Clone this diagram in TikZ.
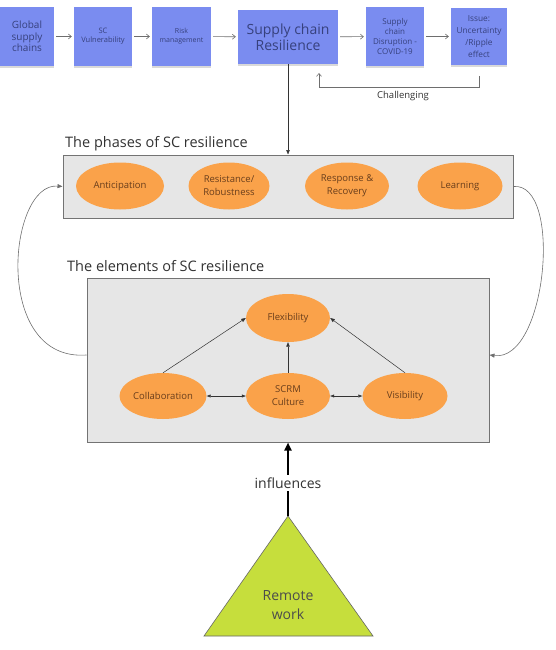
\documentclass[tikz,border=0pt]{standalone}
\usepackage{fontspec}
\setmainfont{Open Sans}
\usetikzlibrary{shapes.geometric,arrows.meta,shadows}
\definecolor{boxblue}{RGB}{122,140,240}
\definecolor{bluetext}{RGB}{55,65,125}
\definecolor{orangefill}{RGB}{250,162,74}
\definecolor{orangetext}{RGB}{105,62,28}
\definecolor{panelfill}{RGB}{230,230,230}
\definecolor{paneldraw}{RGB}{115,115,115}
\definecolor{trifill}{RGB}{198,222,60}
\definecolor{titlegrey}{RGB}{50,50,50}
\definecolor{linegrey}{RGB}{110,110,110}
\begin{document}
\begin{tikzpicture}[x=1pt,y=-1pt,
  sticky/.style={fill=boxblue, draw=none, text=bluetext, align=center, inner sep=1pt,
    drop shadow={shadow xshift=0pt,shadow yshift=-2.5pt,opacity=0.3}},
  panel/.style={fill=panelfill, draw=paneldraw, line width=1pt, inner sep=0pt},
  oval/.style={ellipse, fill=orangefill, draw=none, text=orangetext, align=center,
    inner sep=0pt, minimum height=47pt, font=\fontsize{9.5}{13}\selectfont},
  paneltitle/.style={anchor=west, text=titlegrey, inner sep=2pt, font=\fontsize{14.5}{17}\selectfont},
  toparrow/.style={draw=linegrey, line width=0.6pt, -{Straight Barb[length=3pt,width=5pt]}},
  blkarrow/.style={draw=black!80, line width=0.5pt, -{Triangle[length=4.5pt,width=3.5pt]}},
  dblarrow/.style={draw=black!80, line width=0.5pt, {Triangle[length=4pt,width=3pt]}-{Triangle[length=4pt,width=3pt]}},
  curvearrow/.style={draw=linegrey, line width=0.6pt, -{Triangle[length=5pt,width=4pt]}},
]
\useasboundingbox (0,0) rectangle (555,650);

% top row
\node[sticky, minimum width=54pt, minimum height=59pt, font=\fontsize{10}{11.5}\selectfont] (b1) at (27,36.5) {Global\\supply\\chains};
\node[sticky, minimum width=58pt, minimum height=59pt, font=\fontsize{7.5}{9}\selectfont] (b2) at (103,36.5) {SC\\Vulnerability};
\node[sticky, minimum width=59pt, minimum height=59pt, font=\fontsize{7}{9}\selectfont] (b3) at (181.5,36.5) {Risk\\management};
\node[sticky, minimum width=100pt, minimum height=54pt, font=\fontsize{14}{16}\selectfont] (b4) at (288,37) {Supply chain\\Resilience};
\node[sticky, minimum width=58pt, minimum height=59pt, font=\fontsize{8}{10}\selectfont] (b5) at (395,36.5) {Supply\\chain\\Disruption -\\COVID-19};
\node[sticky, minimum width=56pt, minimum height=57pt, font=\fontsize{8.3}{12}\selectfont] (b6) at (479,36.5) {Issue:\\Uncertainty\\/Ripple\\effect};

\draw[toparrow, shorten <=2pt, shorten >=2pt] (b1) -- (b2);
\draw[toparrow, shorten <=2pt, shorten >=2pt] (b2) -- (b3);
\draw[toparrow, shorten <=2pt, shorten >=2pt] (b3) -- (b4);
\draw[toparrow, shorten <=2pt, shorten >=2pt] (b4) -- (b5);
\draw[toparrow, shorten <=2pt, shorten >=2pt] (b5) -- (b6);

\coordinate (c1) at (479,76);
\coordinate (c2) at (319,87);
\coordinate (c3) at (319,73);
\draw[toparrow] (c1) |- (c2) -- (c3);
\node[text=titlegrey, font=\fontsize{9.5}{11}\selectfont] (chl) at (403,96) {Challenging};

% phases panel
\node[paneltitle] (pt) at (63,144) {The phases of SC resilience};
\node[panel, minimum width=450pt, minimum height=63pt] (phases) at (288,186.5) {};
\node[oval, minimum width=88pt] (ant) at (120,186) {Anticipation};
\node[oval, minimum width=81pt] (res) at (229,186) {Resistance/\\Robustness};
\node[oval, minimum width=84pt] (resp) at (347,186) {Response \&\\Recovery};
\node[oval, minimum width=85pt] (learn) at (460,186) {Learning};

\draw[blkarrow] (b4.south) -- (phases.north);

% elements panel
\node[paneltitle] (et) at (65,266) {The elements of SC resilience};
\node[panel, minimum width=402pt, minimum height=164pt] (elem) at (288,360) {};
\node[oval, minimum width=84pt, minimum height=48pt] (flex) at (288,318) {Flexibility};
\node[oval, minimum width=87pt, minimum height=46pt] (coll) at (163,396) {Collaboration};
\node[oval, minimum width=84pt, minimum height=46pt] (scrm) at (288,396) {SCRM\\Culture};
\node[oval, minimum width=85pt, minimum height=46pt] (vis) at (405,396) {Visibility};

\draw[blkarrow] (coll.north) -- (flex.west);
\draw[blkarrow] (scrm.north) -- (flex.south);
\draw[blkarrow] (vis.north) -- (flex.east);
\draw[dblarrow] (coll.east) -- (scrm.west);
\draw[dblarrow] (scrm.east) -- (vis.west);

% feedback curves
\draw[curvearrow] ([yshift=5pt]elem.west) .. controls (-8,362) and (8,182) .. (phases.west);
\draw[curvearrow] (phases.east) .. controls (563,182) and (547,362) .. ([yshift=5pt]elem.east);

% remote work triangle
\coordinate (apex) at (288,516);
\coordinate (tl) at (204,636);
\coordinate (tr) at (373,636);
\draw[fill=trifill, draw=black!60, line width=0.6pt] (apex) -- (tl) -- (tr) -- cycle;
\node[text=black!70, align=center, font=\fontsize{14}{19}\selectfont] (rw) at (288,605) {Remote\\work};

\draw[line width=2pt, -{Triangle[length=8pt,width=7pt]}] (apex) -- (elem.south);
\node[fill=white, text=titlegrey, inner sep=3pt, font=\fontsize{14}{16}\selectfont] (infl) at (288,483) {influences};
\end{tikzpicture}
\end{document}
